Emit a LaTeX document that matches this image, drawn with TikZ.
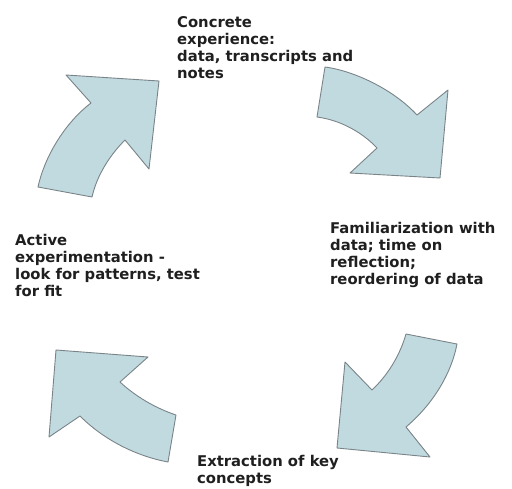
\documentclass[tikz,border=0pt]{standalone}
\usepackage{fontspec}
\setmainfont{DejaVu Sans}
\begin{document}
\begin{tikzpicture}[x=1pt,y=-1pt,
  cyclearrow/.style={fill=arrowfill,draw=arrowline,line width=0.9pt,line join=round},
  caption/.style={anchor=base west,inner sep=0pt,align=left,
    font=\fontsize{14.8}{17}\selectfont\bfseries,text=black!88}]
\definecolor{arrowfill}{HTML}{C0DAE0}
\definecolor{arrowline}{HTML}{7A8488}
\useasboundingbox (0,0) rectangle (512,488);

% upper left arrow, pointing up and to the right
\draw[cyclearrow] (38,187) .. controls (45,155) and (66,122) .. (91,103)
  -- (66,75) -- (159,81) -- (149,169) -- (125,140)
  .. controls (110,155) and (97,175) .. (92,197) -- cycle;

% upper right arrow, pointing down and to the right
\draw[cyclearrow] (325,67) .. controls (355,71) and (394,90) .. (417,115)
  -- (448,90) -- (440,178) -- (350,173) -- (377,148)
  .. controls (362,132) and (340,120) .. (317,117) -- cycle;

% lower right arrow, pointing down and to the left
\draw[cyclearrow] (457,344) .. controls (451,375) and (432,405) .. (406,427)
  -- (430,457) -- (337,448) -- (345,362) -- (372,390)
  .. controls (388,375) and (400,355) .. (406,334) -- cycle;

% lower left arrow, pointing up and to the left
\draw[cyclearrow] (168,462) .. controls (136,456) and (104,440) .. (80,416)
  -- (49,437) -- (56,350) -- (148,357) -- (120,382)
  .. controls (135,396) and (155,408) .. (176,415) -- cycle;

% captions, placed by the baseline of their last line
\node[caption] (concrete) at (177,78) {Concrete\\experience:\\data, transcripts and\\notes};
\node[caption] (familiar) at (330,284) {Familiarization with\\data; time on\\reflection;\\reordering of data};
\node[caption] (extract) at (197,483) {Extraction of key\\concepts};
\node[caption] (active) at (15,296) {Active\\experimentation -\\look for patterns, test\\for fit};
\end{tikzpicture}
\end{document}
